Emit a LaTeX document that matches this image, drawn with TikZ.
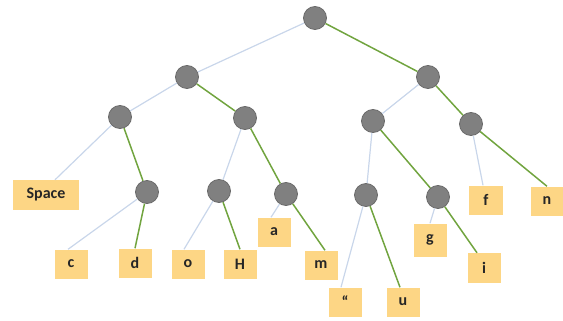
\documentclass[tikz,border=0pt]{standalone}
\usepackage{fontspec}
\setmainfont{Carlito}
\definecolor{boxfill}{HTML}{FDD685}
\definecolor{circfill}{HTML}{808080}
\definecolor{circdraw}{HTML}{6A6A6A}
\definecolor{leftedge}{HTML}{C9D6EA}
\definecolor{rightedge}{HTML}{71A43F}
\begin{document}
\begin{tikzpicture}[x=1pt,y=-1pt,
  inner/.style={circle,fill=circfill,draw=circdraw,line width=0.8pt,minimum size=23pt,inner sep=0pt},
  leaf/.style={rectangle,fill=boxfill,minimum width=33pt,minimum height=29pt,inner sep=0pt,font=\bfseries\fontsize{16}{18}\selectfont,text=black!85},
  le/.style={draw=leftedge,line width=1.2pt},
  re/.style={draw=rightedge,line width=1.5pt}]
\useasboundingbox (0,0) rectangle (563,321);
\node[inner] (root) at (315,18) {};
\node[inner] (l1) at (187,77) {};
\node[inner] (r1) at (428,77) {};
\node[inner] (ll) at (120,117) {};
\node[inner] (lr) at (245,118) {};
\node[inner] (rl) at (373,121) {};
\node[inner] (rr) at (471,124) {};
\node[leaf,minimum width=66pt,minimum height=30pt] (space) at (46,195) {Space};
\node[inner] (llr) at (147,192) {};
\node[inner] (lrl) at (219,191) {};
\node[inner] (lrr) at (286,194) {};
\node[inner] (rll) at (366,195) {};
\node[inner] (rlr) at (438,197) {};
\node[leaf,minimum width=34pt] (f) at (486,200) {f};
\node[leaf,minimum width=32pt] (n) at (547,201) {n};
\node[leaf] (c) at (71,264) {c};
\node[leaf] (d) at (135,263) {d};
\node[leaf] (o) at (188,264) {o};
\node[leaf] (H) at (240,264) {H};
\node[leaf] (a) at (274,232) {a};
\node[leaf] (m) at (321,265) {m};
\node[leaf] (q) at (345,302) {“};
\node[leaf] (u) at (403,302) {u};
\node[leaf,minimum height=33pt] (g) at (430,240) {g};
\node[leaf,minimum height=30pt] (i) at (484,268) {i};
\draw[le] (root) -- (l1);
\draw[re] (root) -- (r1);
\draw[le] (l1) -- (ll);
\draw[re] (l1) -- (lr);
\draw[le] (r1) -- (rl);
\draw[re] (r1) -- (rr);
\draw[le] (ll) -- ([xshift=9pt]space.north);
\draw[re] (ll) -- (llr);
\draw[le] (lr) -- (lrl);
\draw[re] (lr) -- (lrr);
\draw[le] (rl) -- (rll);
\draw[re] (rl) -- (rlr);
\draw[le] (rr) -- ([xshift=-3pt]f.north);
\draw[re] (rr) -- (n.north);
\draw[le] (llr) -- ([xshift=-3pt]c.north);
\draw[re] (llr) -- (d.north);
\draw[le] (lrl) -- ([xshift=-4pt]o.north);
\draw[re] (lrl) -- (H.north);
\draw[le] (lrr) -- ([xshift=-3pt]a.north);
\draw[re] (lrr) -- ([xshift=4pt]m.north);
\draw[le] (rll) -- ([xshift=-4pt]q.north);
\draw[re] (rll) -- ([xshift=-3pt]u.north);
\draw[le] (rlr) -- (g.north);
\draw[re] (rlr) -- ([xshift=-7pt]i.north);
\end{tikzpicture}
\end{document}
